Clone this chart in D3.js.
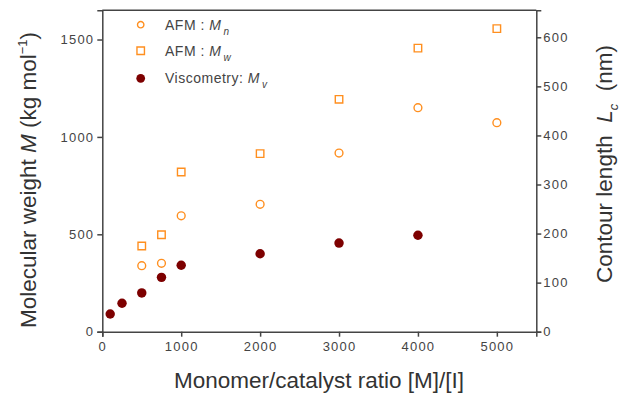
<!DOCTYPE html>
<html>
<head>
<meta charset="utf-8">
<script src="https://cdn.jsdelivr.net/npm/d3@7"></script>
<style>
    body { margin: 0; background: #fff; }
    svg { font-family: "Liberation Sans", Arial, sans-serif; }
    .tick text { fill: #444; font-size: 13px; letter-spacing: 1.2px; }
    .tick line, .domain { stroke: #444; stroke-width: 1.5; }
</style>
</head>
<body>
<div id="chart"></div>
<script>
// monomer/catalyst ratio and molecular weights (kg/mol)
const ratiosMn = [500, 750, 1000, 2000, 3000, 4000, 5000];
const afmMn = [339, 351, 595, 654, 917, 1150, 1073];
const ratiosMw = [500, 750, 1000, 2000, 3000, 4000, 5000];
const afmMw = [440, 498, 820, 914, 1193, 1456, 1556];
const ratiosMv = [100, 250, 500, 750, 1000, 2000, 3000, 4000];
const viscMv = [91, 146, 199, 279, 341, 400, 455, 495];

const xTicks = [0, 1000, 2000, 3000, 4000, 5000];
const yTicks = [0, 500, 1000, 1500];
const y2Ticks = [0, 100, 200, 300, 400, 500, 600];

const cfg = {
    width: 621,
    height: 396,
    left: 102.3, right: 536.3, top: 10.3, bottom: 331.7,
    orange: "#ff8f1f",
    darkred: "#7d0000"
};

const svg = d3.select("#chart")
    .append("svg")
    .attr("width", cfg.width)
    .attr("height", cfg.height);

const x = d3.scaleLinear().domain([0, 5500]).range([cfg.left, cfg.right]);
const y = d3.scaleLinear().domain([0, 1650]).range([cfg.bottom, cfg.top]);
const y2 = d3.scaleLinear().domain([0, 655]).range([cfg.bottom, cfg.top]);
const fmt = d3.format("d");

// axes
svg.append("g")
    .attr("transform", "translate(0," + cfg.bottom + ")")
    .call(d3.axisBottom(x).tickValues(xTicks).tickFormat(fmt).tickSizeOuter(0).tickSize(5).tickPadding(5));

svg.append("g")
    .attr("transform", "translate(" + cfg.left + ",0)")
    .call(d3.axisLeft(y).tickValues(yTicks).tickFormat(fmt).tickSizeOuter(0).tickSize(5).tickPadding(3));

svg.append("g")
    .attr("transform", "translate(" + cfg.right + ",0)")
    .call(d3.axisRight(y2).tickValues(y2Ticks).tickFormat(fmt).tickSizeOuter(0).tickSize(5).tickPadding(2));

// top frame line
svg.append("line")
    .attr("x1", cfg.left).attr("x2", cfg.right)
    .attr("y1", cfg.top).attr("y2", cfg.top)
    .attr("stroke", "#444").attr("stroke-width", 1.5);

// data marks
const circleSym = d3.symbol().type(d3.symbolCircle);
const squareSym = d3.symbol().type(d3.symbolSquare);

svg.append("g").selectAll("path")
    .data(ratiosMn.map((r, i) => [r, afmMn[i]]))
    .enter().append("path")
    .attr("d", circleSym.size(48)())
    .attr("transform", d => "translate(" + x(d[0]) + "," + y(d[1]) + ")")
    .attr("fill", "none").attr("stroke", cfg.orange).attr("stroke-width", 1.4);

svg.append("g").selectAll("path")
    .data(ratiosMw.map((r, i) => [r, afmMw[i]]))
    .enter().append("path")
    .attr("d", squareSym.size(56)())
    .attr("transform", d => "translate(" + x(d[0]) + "," + y(d[1]) + ")")
    .attr("fill", "none").attr("stroke", cfg.orange).attr("stroke-width", 1.4);

svg.append("g").selectAll("path")
    .data(ratiosMv.map((r, i) => [r, viscMv[i]]))
    .enter().append("path")
    .attr("d", circleSym.size(70)())
    .attr("transform", d => "translate(" + x(d[0]) + "," + y(d[1]) + ")")
    .attr("fill", cfg.darkred);

// legend
const legend = [
    { sym: circleSym.size(32)(), fill: "none", stroke: cfg.orange, sub: "n", label: "AFM : " },
    { sym: squareSym.size(56)(), fill: "none", stroke: cfg.orange, sub: "w", label: "AFM : " },
    { sym: circleSym.size(60)(), fill: cfg.darkred, stroke: "none", sub: "v", label: "Viscometry: " }
];
const legY = [24.7, 50.7, 78.3];

legend.forEach((d, i) => {
    svg.append("path")
        .attr("d", d.sym)
        .attr("transform", "translate(140.7," + legY[i] + ")")
        .attr("fill", d.fill).attr("stroke", d.stroke).attr("stroke-width", 1.4);
    const t = svg.append("text")
        .attr("x", 165).attr("y", legY[i] + 5)
        .attr("fill", "#444").attr("font-size", 14)
        .attr("letter-spacing", 0.5);
    t.append("tspan").text(d.label);
    t.append("tspan").attr("font-style", "italic").text("M");
    t.append("tspan").attr("font-style", "italic").attr("font-size", 10)
        .attr("dx", 2).attr("dy", 5).text(d.sub);
});

// axis titles
svg.append("text")
    .attr("x", 319).attr("y", 388)
    .attr("text-anchor", "middle")
    .attr("fill", "#333").attr("font-size", 22.5)
    .text("Monomer/catalyst ratio [M]/[I]");

const yl = svg.append("text")
    .attr("transform", "translate(36,180) rotate(-90)")
    .attr("text-anchor", "middle")
    .attr("fill", "#333").attr("font-size", 22.5);
yl.append("tspan").text("Molecular weight ");
yl.append("tspan").attr("font-style", "italic").text("M");
yl.append("tspan").text(" (kg mol");
yl.append("tspan").attr("font-size", 13).attr("dy", -9).text("\u22121");
yl.append("tspan").attr("dy", 9).text(")");

const yr = svg.append("text")
    .attr("transform", "translate(612,164) rotate(-90)")
    .attr("text-anchor", "middle")
    .style("white-space", "pre")
    .attr("fill", "#333").attr("font-size", 22.5);
yr.append("tspan").text("Contour length  ");
yr.append("tspan").attr("font-style", "italic").text("L");
yr.append("tspan").attr("font-style", "italic").attr("font-size", 13).attr("dy", 6).text("c");
yr.append("tspan").attr("dy", -6).text("  (nm)");
</script>
</body>
</html>
